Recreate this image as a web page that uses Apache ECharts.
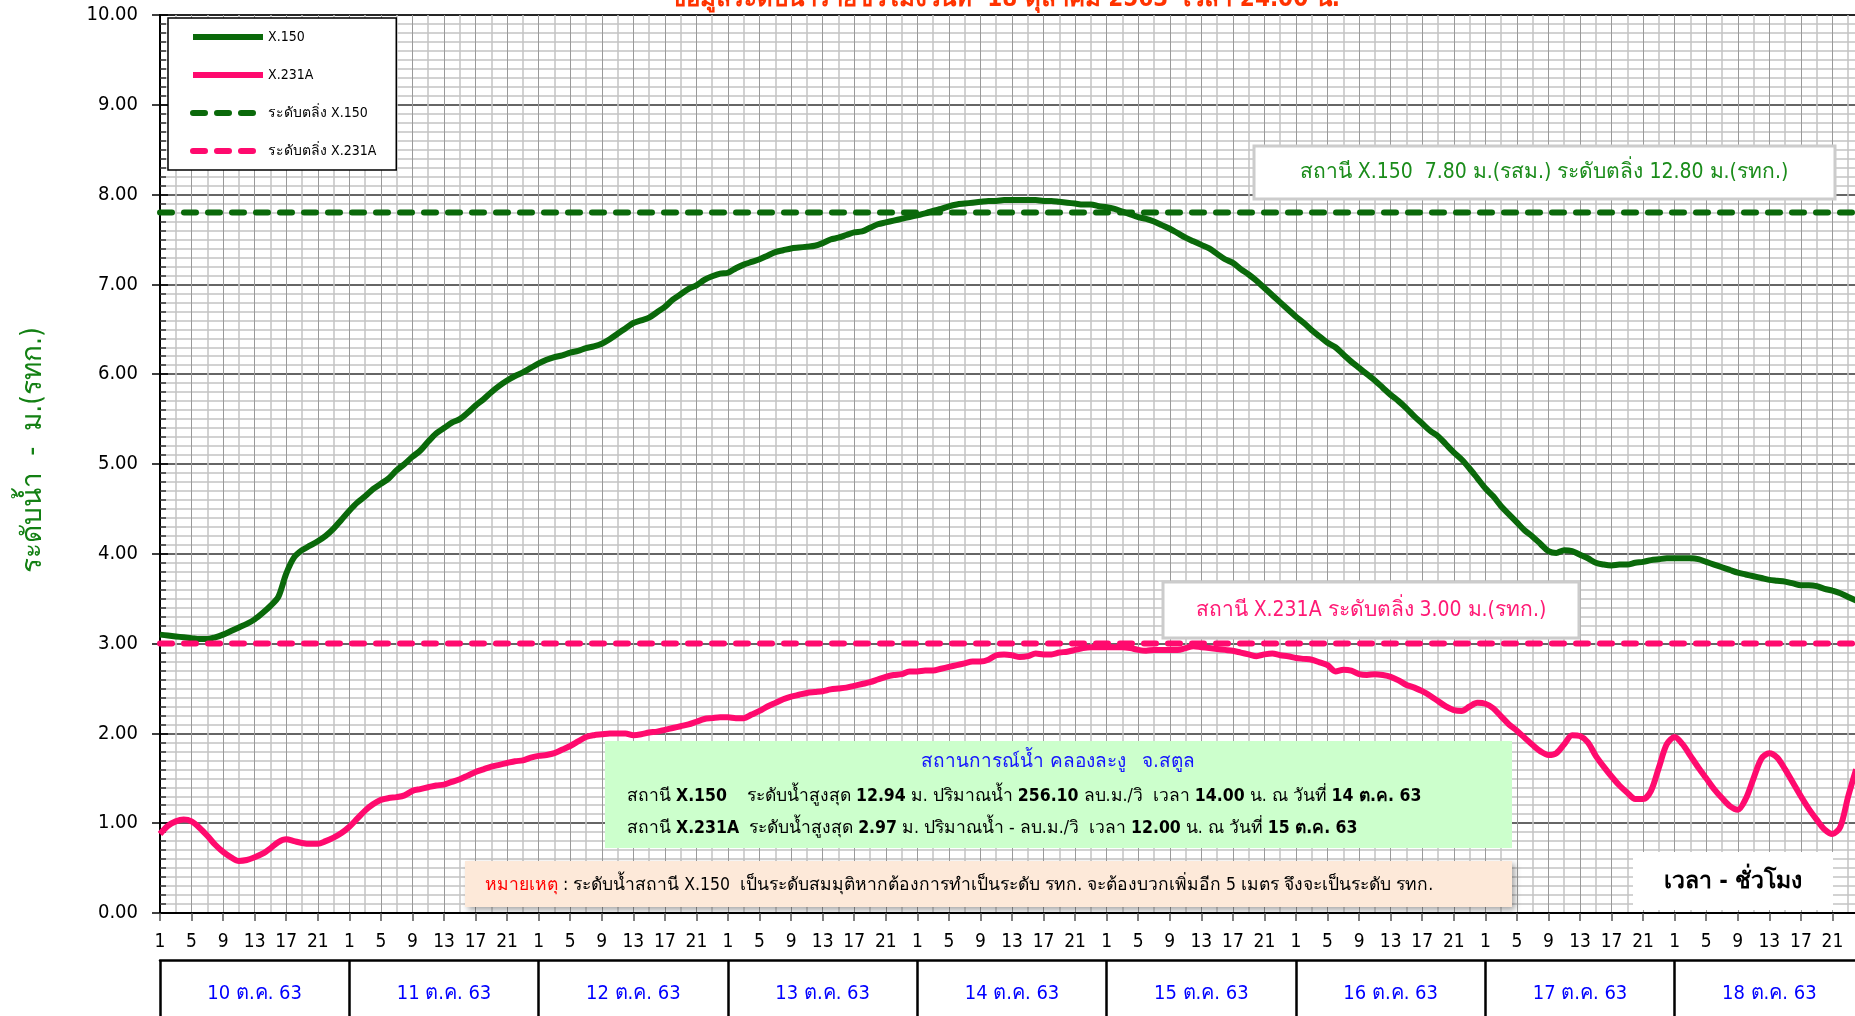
<!DOCTYPE html>
<html>
<head>
<meta charset="utf-8">
<title>สถานการณ์น้ำ คลองละงู</title>
<script src="https://cdn.jsdelivr.net/npm/echarts@6/dist/echarts.min.js"></script>
<style>
  html, body { margin: 0; padding: 0; background: #fff; }
  #chart { width: 1855px; height: 1016px; }
</style>
</head>
<body>
<div id="chart"></div>
<script>
// วันที่ (แต่ละวันมี 24 ชั่วโมง เริ่มที่ 1.00 น.)
const days = ['10 ต.ค. 63', '11 ต.ค. 63', '12 ต.ค. 63', '13 ต.ค. 63', '14 ต.ค. 63',
  '15 ต.ค. 63', '16 ต.ค. 63', '17 ต.ค. 63', '18 ต.ค. 63'];
const hourOfDay = ['1', '2', '3', '4', '5', '6', '7', '8', '9', '10', '11', '12',
  '13', '14', '15', '16', '17', '18', '19', '20', '21', '22', '23', '24'];

// ระดับตลิ่ง
const bankX150 = 7.80;
const bankX231A = 3.00;

// ระดับน้ำรายชั่วโมง สถานี X.150 (ม.รสม.) - หนึ่งแถวต่อวัน
const levelX150 = [
  3.10, 3.09, 3.08, 3.07, 3.06, 3.05, 3.05, 3.07, 3.10, 3.14, 3.18, 3.22, 3.27, 3.34, 3.42, 3.52, 3.78, 3.96, 4.04, 4.09, 4.14, 4.20, 4.28, 4.38,
  4.48, 4.57, 4.64, 4.72, 4.78, 4.84, 4.93, 5.00, 5.08, 5.15, 5.25, 5.34, 5.40, 5.46, 5.50, 5.57, 5.65, 5.72, 5.80, 5.87, 5.93, 5.98, 6.02, 6.07,
  6.12, 6.16, 6.19, 6.21, 6.24, 6.26, 6.29, 6.31, 6.34, 6.39, 6.45, 6.51, 6.57, 6.60, 6.63, 6.69, 6.75, 6.83, 6.89, 6.95, 6.99, 7.05, 7.09, 7.12,
  7.13, 7.18, 7.22, 7.25, 7.28, 7.32, 7.36, 7.38, 7.40, 7.41, 7.42, 7.43, 7.46, 7.50, 7.52, 7.55, 7.58, 7.59, 7.63, 7.67, 7.69, 7.71, 7.73, 7.75,
  7.77, 7.79, 7.82, 7.84, 7.87, 7.89, 7.90, 7.91, 7.92, 7.93, 7.93, 7.94, 7.94, 7.94, 7.94, 7.94, 7.93, 7.93, 7.92, 7.91, 7.90, 7.89, 7.89, 7.87,
  7.86, 7.84, 7.81, 7.78, 7.75, 7.73, 7.70, 7.66, 7.62, 7.57, 7.52, 7.48, 7.44, 7.40, 7.34, 7.28, 7.24, 7.17, 7.11, 7.04, 6.96, 6.88, 6.80, 6.72,
  6.64, 6.57, 6.49, 6.42, 6.35, 6.30, 6.22, 6.14, 6.07, 6.00, 5.93, 5.85, 5.77, 5.70, 5.62, 5.53, 5.45, 5.37, 5.31, 5.22, 5.13, 5.05, 4.95, 4.84,
  4.73, 4.64, 4.53, 4.44, 4.35, 4.26, 4.19, 4.11, 4.03, 4.01, 4.04, 4.03, 3.99, 3.95, 3.90, 3.88, 3.87, 3.88, 3.88, 3.90, 3.91, 3.93, 3.94, 3.95,
  3.95, 3.95, 3.95, 3.94, 3.91, 3.88, 3.85, 3.82, 3.79, 3.77, 3.75, 3.73, 3.71, 3.70, 3.69, 3.67, 3.65, 3.65, 3.64, 3.61, 3.59, 3.56, 3.52, 3.48
];

// ระดับน้ำรายชั่วโมง สถานี X.231A (ม.รทก.)
const levelX231A = [
  0.88, 0.97, 1.02, 1.04, 1.02, 0.95, 0.86, 0.76, 0.68, 0.62, 0.58, 0.59, 0.62, 0.66, 0.72, 0.79, 0.82, 0.80, 0.78, 0.77, 0.77, 0.80, 0.84, 0.89,
  0.96, 1.05, 1.14, 1.21, 1.26, 1.28, 1.29, 1.31, 1.36, 1.38, 1.40, 1.42, 1.43, 1.46, 1.49, 1.53, 1.57, 1.60, 1.63, 1.65, 1.67, 1.69, 1.70, 1.73,
  1.75, 1.76, 1.78, 1.82, 1.86, 1.91, 1.96, 1.98, 1.99, 2.00, 2.00, 2.00, 1.98, 1.99, 2.01, 2.02, 2.04, 2.06, 2.08, 2.10, 2.13, 2.16, 2.17, 2.18,
  2.18, 2.17, 2.17, 2.21, 2.25, 2.30, 2.34, 2.38, 2.41, 2.43, 2.45, 2.46, 2.47, 2.49, 2.50, 2.51, 2.53, 2.55, 2.57, 2.60, 2.63, 2.65, 2.66, 2.69,
  2.69, 2.70, 2.70, 2.72, 2.74, 2.76, 2.78, 2.80, 2.80, 2.82, 2.87, 2.88, 2.87, 2.85, 2.86, 2.89, 2.88, 2.88, 2.90, 2.91, 2.93, 2.95, 2.96, 2.96,
  2.96, 2.96, 2.96, 2.95, 2.93, 2.92, 2.93, 2.93, 2.93, 2.93, 2.95, 2.97, 2.96, 2.95, 2.94, 2.93, 2.92, 2.90, 2.88, 2.86, 2.88, 2.89, 2.87, 2.86,
  2.84, 2.83, 2.82, 2.79, 2.76, 2.69, 2.71, 2.70, 2.66, 2.65, 2.66, 2.65, 2.63, 2.59, 2.54, 2.51, 2.47, 2.42, 2.36, 2.30, 2.26, 2.25, 2.30, 2.34,
  2.33, 2.28, 2.19, 2.10, 2.03, 1.95, 1.87, 1.80, 1.76, 1.78, 1.88, 1.98, 1.97, 1.90, 1.75, 1.63, 1.52, 1.42, 1.34, 1.27, 1.27, 1.36, 1.62, 1.88,
  1.96, 1.88, 1.75, 1.62, 1.50, 1.38, 1.28, 1.19, 1.15, 1.27, 1.50, 1.72, 1.78, 1.73, 1.60, 1.45, 1.30, 1.16, 1.04, 0.93, 0.88, 0.96, 1.30, 1.60
];

const FONT = 'Tahoma, "DejaVu Sans Condensed", "DejaVu Sans", sans-serif';
const GREEN = '#0a690a';
const PINK = '#ff0a6e';
const totalHours = days.length * 24;

let chart = echarts.init(document.getElementById('chart'));

// กล่องข้อความ (พื้น + กรอบ + ข้อความ)
function box(x, y, w, h, fill, stroke, extra) {
  return {
    type: 'rect', z: 100,
    shape: { x: x, y: y, width: w, height: h },
    style: Object.assign({ fill: fill, stroke: stroke, lineWidth: stroke ? 3 : 0 }, extra || {})
  };
}
function txt(x, y, text, style) {
  return {
    type: 'text', z: 101, x: x, y: y,
    style: Object.assign({ text: text, fontFamily: FONT, align: 'center', verticalAlign: 'middle' }, style)
  };
}

let option = {
  animation: false,
  backgroundColor: '#fff',
  grid: {
    left: 160, top: 15, width: 1704, height: 898,
    outerBoundsMode: 'none', containLabel: false,
    show: true, borderColor: '#000', borderWidth: 2
  },
  legend: {
    orient: 'vertical', left: 168, top: 18,
    padding: [12, 20, 12, 22], itemGap: 24,
    itemWidth: 70, itemHeight: 14,
    backgroundColor: '#fff', borderColor: '#000', borderWidth: 1.5,
    itemStyle: { opacity: 0 },
    lineStyle: { width: 6 },
    textStyle: { fontSize: 14, color: '#000', fontFamily: FONT },
    data: ['X.150', 'X.231A', 'ระดับตลิ่ง X.150', 'ระดับตลิ่ง X.231A']
  },
  xAxis: [
    {
      type: 'value', min: 0, max: totalHours, interval: 4, position: 'bottom',
      axisLine: { onZero: false, lineStyle: { color: '#000', width: 2 } },
      axisTick: { length: 8, lineStyle: { color: '#555', width: 1.5 } },
      axisLabel: {
        color: '#000', fontSize: 19, fontFamily: FONT, margin: 20,
        formatter: v => hourOfDay[v % 24]
      },
      splitLine: { show: true, lineStyle: { color: '#9a9a9a', width: 1 } },
      minorTick: { show: false, splitNumber: 2 },
      minorSplitLine: { show: true, lineStyle: { color: '#c4c4c4', width: 1.5 } }
    },
    {
      // แถบวันที่ใต้แกนเวลา
      type: 'category', data: days, position: 'bottom', offset: 47,
      axisLine: { onZero: false, lineStyle: { color: '#000', width: 2.5 } },
      axisTick: { show: true, interval: 0, length: 70, lineStyle: { color: '#000', width: 2.5 } },
      axisLabel: { interval: 0, color: '#0000ff', fontSize: 20, fontFamily: FONT, margin: 24 },
      splitLine: { show: false }
    }
  ],
  yAxis: [
    {
      type: 'value', min: 0, max: 10, interval: 1,
      name: 'ระดับน้ำ  -  ม.(รทก.)', nameLocation: 'middle', nameGap: 112,
      nameTextStyle: { color: '#138013', fontSize: 28, fontFamily: FONT, padding: [0, 0, 0, 28] },
      axisLine: { show: true, onZero: false, lineStyle: { color: '#000', width: 2 } },
      axisTick: { show: true, length: 8, lineStyle: { color: '#000', width: 1.5 } },
      axisLabel: {
        color: '#000', fontSize: 20, fontFamily: FONT, margin: 22,
        formatter: v => v.toFixed(2)
      },
      splitLine: { show: true, lineStyle: { color: '#333', width: 1.5 } },
      minorTick: { show: false, splitNumber: 10 },
      minorSplitLine: { show: true, lineStyle: { color: '#c4c4c4', width: 1.5 } }
    },
    {
      // ขีดย่อยด้านในแกน y
      type: 'value', min: 0, max: 10, interval: 1, position: 'left',
      axisLine: { show: false, onZero: false },
      axisLabel: { show: false },
      splitLine: { show: false },
      axisTick: { show: true, inside: true, length: 8, lineStyle: { color: '#000', width: 1.5 } },
      minorTick: { show: true, splitNumber: 10, length: 6, lineStyle: { color: '#333', width: 1.5 } }
    }
  ],
  series: [
    {
      name: 'X.150', type: 'line', symbol: 'none', smooth: 0.3,
      data: levelX150.map((v, i) => [i, v]),
      lineStyle: { color: GREEN, width: 6 }, itemStyle: { color: GREEN }
    },
    {
      name: 'X.231A', type: 'line', symbol: 'none', smooth: 0.3,
      data: levelX231A.map((v, i) => [i, v]),
      lineStyle: { color: PINK, width: 6 }, itemStyle: { color: PINK }
    },
    {
      name: 'ระดับตลิ่ง X.150', type: 'line', symbol: 'none',
      data: [[0, bankX150], [totalHours, bankX150]],
      lineStyle: { color: GREEN, width: 6, type: [12, 12], cap: 'round' }, itemStyle: { color: GREEN }
    },
    {
      name: 'ระดับตลิ่ง X.231A', type: 'line', symbol: 'none',
      data: [[0, bankX231A], [totalHours, bankX231A]],
      lineStyle: { color: PINK, width: 6, type: [12, 12], cap: 'round' }, itemStyle: { color: PINK }
    }
  ],
  graphic: [
    txt(1005, 12, 'ข้อมูลระดับน้ำรายชั่วโมงวันที่  18 ตุลาคม 2563  เวลา 24.00 น.',
      { fill: '#ff3300', fontSize: 24, fontWeight: 'bold', verticalAlign: 'bottom' }),

    box(1254, 146, 581, 53, '#fff', '#cccccc'),
    txt(1544, 173, 'สถานี X.150  7.80 ม.(รสม.) ระดับตลิ่ง 12.80 ม.(รทก.)', { fill: '#1a8c1a', fontSize: 21 }),

    box(1163, 582, 416, 56, '#fff', '#cccccc'),
    txt(1371, 611, 'สถานี X.231A ระดับตลิ่ง 3.00 ม.(รทก.)', { fill: '#ff1a75', fontSize: 21 }),

    box(605, 741, 907, 107, '#ccffcc'),
    txt(1058, 762, 'สถานการณ์น้ำ คลองละงู   จ.สตูล', { fill: '#1414ff', fontSize: 19 }),
    txt(627, 796,
      '{n|สถานี }{b|X.150}{n|    ระดับน้ำสูงสุด }{b|12.94}{n| ม. ปริมาณน้ำ }{b|256.10}{n| ลบ.ม./วิ  เวลา }{b|14.00}{n| น. ณ วันที่ }{b|14 ต.ค. 63}',
      { align: 'left', rich: {
        n: { fontSize: 17.5, fontFamily: FONT, fill: '#000' },
        b: { fontSize: 17.5, fontFamily: FONT, fill: '#000', fontWeight: 'bold' } } }),
    txt(627, 828,
      '{n|สถานี }{b|X.231A}{n|  ระดับน้ำสูงสุด }{b|2.97}{n| ม. ปริมาณน้ำ - ลบ.ม./วิ  เวลา }{b|12.00}{n| น. ณ วันที่ }{b|15 ต.ค. 63}',
      { align: 'left', rich: {
        n: { fontSize: 17.5, fontFamily: FONT, fill: '#000' },
        b: { fontSize: 17.5, fontFamily: FONT, fill: '#000', fontWeight: 'bold' } } }),

    box(465, 861, 1047, 46, '#fde9d9', null,
      { shadowBlur: 6, shadowColor: 'rgba(0,0,0,0.35)', shadowOffsetX: 3, shadowOffsetY: 3 }),
    txt(485, 885,
      '{r|หมายเหตุ}{k| : ระดับน้ำสถานี X.150  เป็นระดับสมมุติหากต้องการทำเป็นระดับ รทก. จะต้องบวกเพิ่มอีก 5 เมตร จึงจะเป็นระดับ รทก.}',
      { align: 'left', rich: {
        r: { fontSize: 17.5, fontFamily: FONT, fill: '#ff0000' },
        k: { fontSize: 17.5, fontFamily: FONT, fill: '#000' } } }),

    box(1633, 852, 200, 58, '#fff'),
    txt(1733, 882, 'เวลา - ชั่วโมง', { fill: '#000', fontSize: 23, fontWeight: 'bold' })
  ]
};

chart.setOption(option);
</script>
</body>
</html>
